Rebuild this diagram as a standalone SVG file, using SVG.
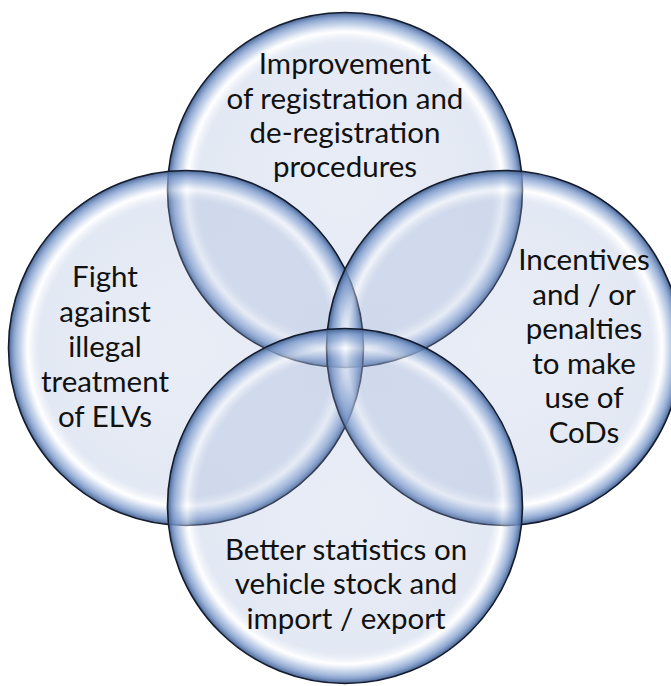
<svg xmlns="http://www.w3.org/2000/svg" width="671" height="686" viewBox="0 0 671 686">
  <defs>
    <radialGradient id="bubble" cx="50%" cy="50%" r="50%">
      <stop offset="0%" stop-color="#9bafd7" stop-opacity="0.22"/>
      <stop offset="83%" stop-color="#9bafd7" stop-opacity="0.28"/>
      <stop offset="89%" stop-color="#ffffff" stop-opacity="0.4"/>
      <stop offset="93%" stop-color="#a6bbdf" stop-opacity="0.6"/>
      <stop offset="97%" stop-color="#7393c6" stop-opacity="0.82"/>
      <stop offset="100%" stop-color="#3f5c8c" stop-opacity="0.95"/>
    </radialGradient>
  </defs>
  <style>
    .circle { fill: url(#bubble); stroke: #141c2e; stroke-width: 1.6; }
    .label { font-family: "Lato", "Liberation Sans", sans-serif; font-size: 29.5px; fill: #111111; text-anchor: middle; }
  </style>
  <rect width="671" height="686" fill="#ffffff"/>
  <g id="node-top">
    <circle class="circle" cx="345" cy="190" r="177.5"/>
  </g>
  <g id="node-left">
    <circle class="circle" cx="186" cy="348" r="177.5"/>
  </g>
  <g id="node-right">
    <circle class="circle" cx="504" cy="348" r="177.5"/>
  </g>
  <g id="node-bottom">
    <circle class="circle" cx="345" cy="506" r="177.5"/>
  </g>
  <g id="labels">
    <text class="label" x="345" y="74">Improvement</text>
    <text class="label" x="345" y="108.5">of registration and</text>
    <text class="label" x="345" y="143">de-registration</text>
    <text class="label" x="345" y="177">procedures</text>
    <text class="label" x="105" y="287">Fight</text>
    <text class="label" x="105" y="322">against</text>
    <text class="label" x="105" y="357">illegal</text>
    <text class="label" x="105" y="392">treatment</text>
    <text class="label" x="105" y="427">of ELVs</text>
    <text class="label" x="584" y="270">Incentives</text>
    <text class="label" x="584" y="304.5">and / or</text>
    <text class="label" x="584" y="339">penalties</text>
    <text class="label" x="584" y="373.5">to make</text>
    <text class="label" x="584" y="408">use of</text>
    <text class="label" x="584" y="442.5">CoDs</text>
    <text class="label" x="346" y="560">Better statistics on</text>
    <text class="label" x="346" y="594">vehicle stock and</text>
    <text class="label" x="346" y="629">import / export</text>
  </g>
  <g id="connectors"></g>
</svg>
